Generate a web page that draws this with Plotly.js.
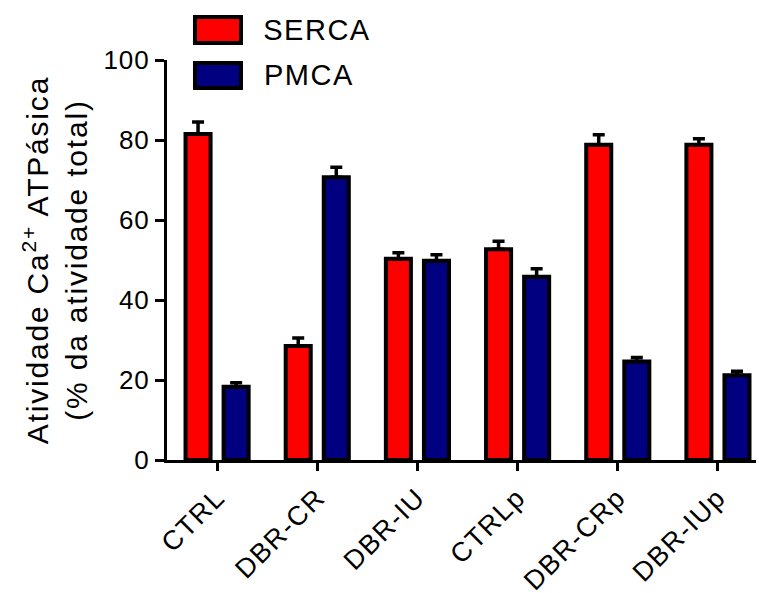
<!DOCTYPE html>
<html>
<head>
<meta charset="utf-8">
<script src="https://cdn.plot.ly/plotly-3.0.1.min.js"></script>
<style>
html,body{margin:0;padding:0;background:#fff;}
#chart{width:759px;height:593px;}
#chart .xtick text{letter-spacing:1.5px;}
#chart .ytick text{letter-spacing:1px;}
#chart .ytitle{letter-spacing:1.8px;}
#chart .annotation-text{letter-spacing:1.5px;}
</style>
</head>
<body>
<div id="chart"></div>
<script>
const categories = ["CTRL", "DBR-CR", "DBR-IU", "CTRLp", "DBR-CRp", "DBR-IUp"];
const sercaValues = [81.5, 28.5, 50.3, 52.7, 78.8, 78.8];
const sercaErrors = [3.0, 2.0, 1.5, 2.0, 2.5, 1.5];
const pmcaValues = [18.3, 70.7, 49.8, 45.8, 24.6, 21.2];
const pmcaErrors = [1.0, 2.5, 1.5, 2.0, 1.0, 1.0];
const seriesNames = ["SERCA", "PMCA"];
const seriesColors = ["#FF0000", "#000080"];
const yTicks = [0, 20, 40, 60, 80, 100];

const font = "Liberation Sans, Arial, sans-serif";
const idx = categories.map((c, i) => i);

function errObj(arr) {
  return {type: "data", array: arr, arrayminus: arr.map(() => 0), symmetric: false,
          color: "#000", thickness: 3.5, width: 6};
}

const traces = [
  {type: "bar", name: seriesNames[0], x: idx, y: sercaValues, width: 0.25, offset: -0.315,
   marker: {color: seriesColors[0], line: {color: "#000", width: 4}},
   error_y: errObj(sercaErrors), showlegend: false},
  {type: "bar", name: seriesNames[1], x: idx, y: pmcaValues, width: 0.25, offset: 0.065,
   marker: {color: seriesColors[1], line: {color: "#000", width: 4}},
   error_y: errObj(pmcaErrors), showlegend: false}
];

// custom legend (swatches + labels)
const legRows = [{y0: 1.0425, y1: 1.1075, ty: 1.075}, {y0: 0.93, y1: 0.9925, ty: 0.9625}];
const shapes = seriesNames.map((n, i) => ({
  type: "rect", xref: "paper", yref: "paper", x0: 0.0475, x1: 0.1256,
  y0: legRows[i].y0, y1: legRows[i].y1,
  fillcolor: seriesColors[i], line: {color: "#000", width: 4}
}));
const annotations = seriesNames.map((n, i) => ({
  xref: "paper", yref: "paper", x: 0.1664, y: legRows[i].ty, xanchor: "left", yanchor: "middle",
  text: n, showarrow: false, font: {family: font, size: 29, color: "#000"}
}));

const layout = {
  width: 759, height: 593,
  margin: {l: 167, r: 3, t: 60, b: 133},
  paper_bgcolor: "#fff", plot_bgcolor: "#fff",
  barmode: "overlay",
  xaxis: {
    range: [-0.5, 5.38], tickmode: "array", tickvals: idx, ticktext: categories,
    tickangle: -45, ticks: "outside", ticklen: 8, tickwidth: 3, tickcolor: "#000",
    showline: true, linecolor: "#000", linewidth: 3, showgrid: false, zeroline: false,
    tickfont: {family: font, size: 27, color: "#000"}, automargin: false
  },
  yaxis: {
    range: [0, 100], tickmode: "array", tickvals: yTicks, ticktext: yTicks.map(String),
    ticks: "outside", ticklen: 9, tickwidth: 3, tickcolor: "#000",
    showline: true, linecolor: "#000", linewidth: 3, showgrid: false, zeroline: false,
    tickfont: {family: font, size: 26, color: "#000"}, automargin: false,
    title: {text: "Atividade Ca<sup>2+</sup> ATPásica<br>(% da atividade total)",
            font: {family: font, size: 30, color: "#000"}, standoff: 10}
  },
  shapes: shapes,
  annotations: annotations
};

Plotly.newPlot("chart", traces, layout, {displayModeBar: false, staticPlot: true});
</script>
</body>
</html>
